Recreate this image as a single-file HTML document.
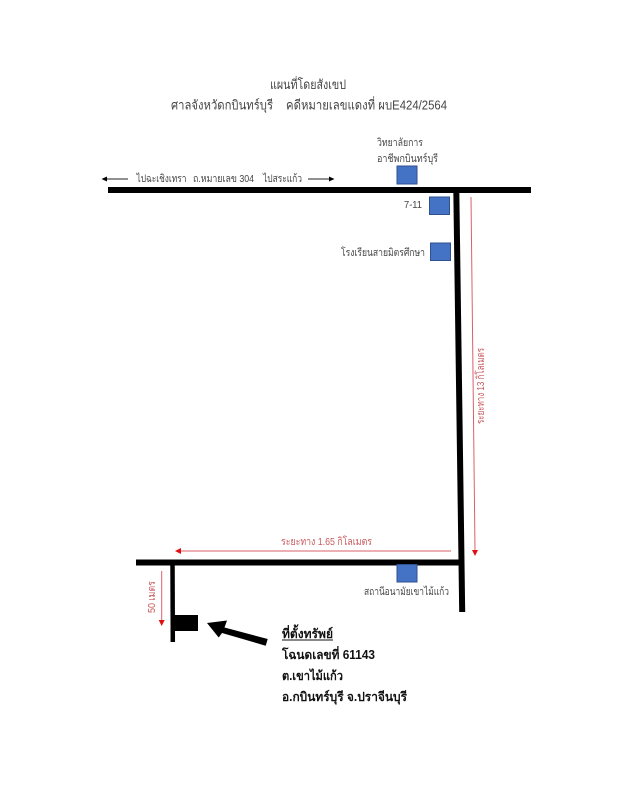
<!DOCTYPE html>
<html lang="th">
<head>
<meta charset="utf-8">
<style>
html,body{margin:0;padding:0;background:#fff;width:618px;height:800px;overflow:hidden}
svg{display:block;filter:blur(0.35px)}
text{font-family:"Liberation Sans","DejaVu Sans","Noto Sans CJK SC",sans-serif}
</style>
</head>
<body>
<svg width="618" height="800" viewBox="0 0 618 800" xmlns="http://www.w3.org/2000/svg">
<g stroke="#000" stroke-width="6" fill="none">
<line x1="108" y1="190" x2="531" y2="190"/>
<line x1="456.300" y1="190" x2="462.200" y2="612"/>
<line x1="136" y1="562.500" x2="460" y2="562.500"/>
</g>
<line x1="172.500" y1="562" x2="172.800" y2="642" stroke="#000" stroke-width="4.500"/>
<rect x="174" y="615" width="24" height="16" fill="#000"/>
<polygon points="207,623 227,620.500 224.500,627.500 267.700,639 265.700,645.700 222,633 218.700,637.500" fill="#000"/>
<g fill="#4472c4" stroke="#2f528f" stroke-width="1">
<rect x="397" y="166" width="20" height="18"/>
<rect x="429.500" y="197" width="20" height="17.500"/>
<rect x="430.500" y="243" width="20" height="17.500"/>
<rect x="397" y="564.500" width="20" height="17.500"/>
</g>
<g stroke="#222" stroke-width="1" fill="none">
<line x1="106" y1="179" x2="128" y2="179"/>
<line x1="308" y1="179" x2="330" y2="179"/>
</g>
<polygon points="101.500,179 107,176.500 107,181.500" fill="#000"/>
<polygon points="334.500,179 329,176.500 329,181.500" fill="#000"/>
<g stroke="#d9606a" stroke-width="1" fill="none">
<line x1="471" y1="197" x2="475" y2="550"/>
<line x1="451" y1="551" x2="180" y2="551"/>
<line x1="161.700" y1="571" x2="161.700" y2="620"/>
</g>
<polygon points="475,556 472,550 478,550" fill="#e01010"/>
<polygon points="175,551 181,548 181,554" fill="#e01010"/>
<polygon points="161.700,626 158.700,620 164.700,620" fill="#e01010"/>
<g fill="#444">
<text x="270" y="89" font-size="13" textLength="76" lengthAdjust="spacingAndGlyphs">แผนที่โดยสังเขป</text>
<text x="171" y="109.500" font-size="13" textLength="102" lengthAdjust="spacingAndGlyphs">ศาลจังหวัดกบินทร์บุรี</text>
<text x="286" y="109.500" font-size="13" textLength="161" lengthAdjust="spacingAndGlyphs">คดีหมายเลขแดงที่ ผบE424/2564</text>
<text x="377" y="146" font-size="10.500" textLength="46" lengthAdjust="spacingAndGlyphs">วิทยาลัยการ</text>
<text x="377" y="162" font-size="10.500" textLength="61" lengthAdjust="spacingAndGlyphs">อาชีพกบินทร์บุรี</text>
<text x="136.500" y="182" font-size="10.500" textLength="50" lengthAdjust="spacingAndGlyphs">ไปฉะเชิงเทรา</text>
<text x="193" y="182" font-size="10.500" textLength="61" lengthAdjust="spacingAndGlyphs">ถ.หมายเลข 304</text>
<text x="263" y="182" font-size="10.500" textLength="39" lengthAdjust="spacingAndGlyphs">ไปสระแก้ว</text>
<text x="404" y="208" font-size="10.500" textLength="18" lengthAdjust="spacingAndGlyphs">7-11</text>
<text x="341" y="256" font-size="10.500" textLength="84" lengthAdjust="spacingAndGlyphs">โรงเรียนสายมิตรศึกษา</text>
<text x="364" y="595" font-size="10.500" textLength="85" lengthAdjust="spacingAndGlyphs">สถานีอนามัยเขาไม้แก้ว</text>
</g>
<g fill="#c9565a">
<text x="281" y="545" font-size="10.500" textLength="91" lengthAdjust="spacingAndGlyphs">ระยะทาง 1.65 กิโลเมตร</text>
<text transform="translate(484,424) rotate(-90)" font-size="10.500" textLength="76" lengthAdjust="spacingAndGlyphs">ระยะทาง 13 กิโลเมตร</text>
<text transform="translate(155,613) rotate(-90)" font-size="10.500" textLength="32" lengthAdjust="spacingAndGlyphs">50 เมตร</text>
</g>
<g fill="#111" font-weight="bold">
<text x="282" y="638" font-size="12.500" textLength="51" lengthAdjust="spacingAndGlyphs">ที่ตั้งทรัพย์</text>
<line x1="282" y1="640" x2="333" y2="640" stroke="#111" stroke-width="1"/>
<text x="282" y="659" font-size="12.500" textLength="93" lengthAdjust="spacingAndGlyphs">โฉนดเลขที่ 61143</text>
<text x="282" y="680" font-size="12.500" textLength="61" lengthAdjust="spacingAndGlyphs">ต.เขาไม้แก้ว</text>
<text x="282" y="701" font-size="12.500" textLength="125" lengthAdjust="spacingAndGlyphs">อ.กบินทร์บุรี จ.ปราจีนบุรี</text>
</g>
</svg>
</body>
</html>
